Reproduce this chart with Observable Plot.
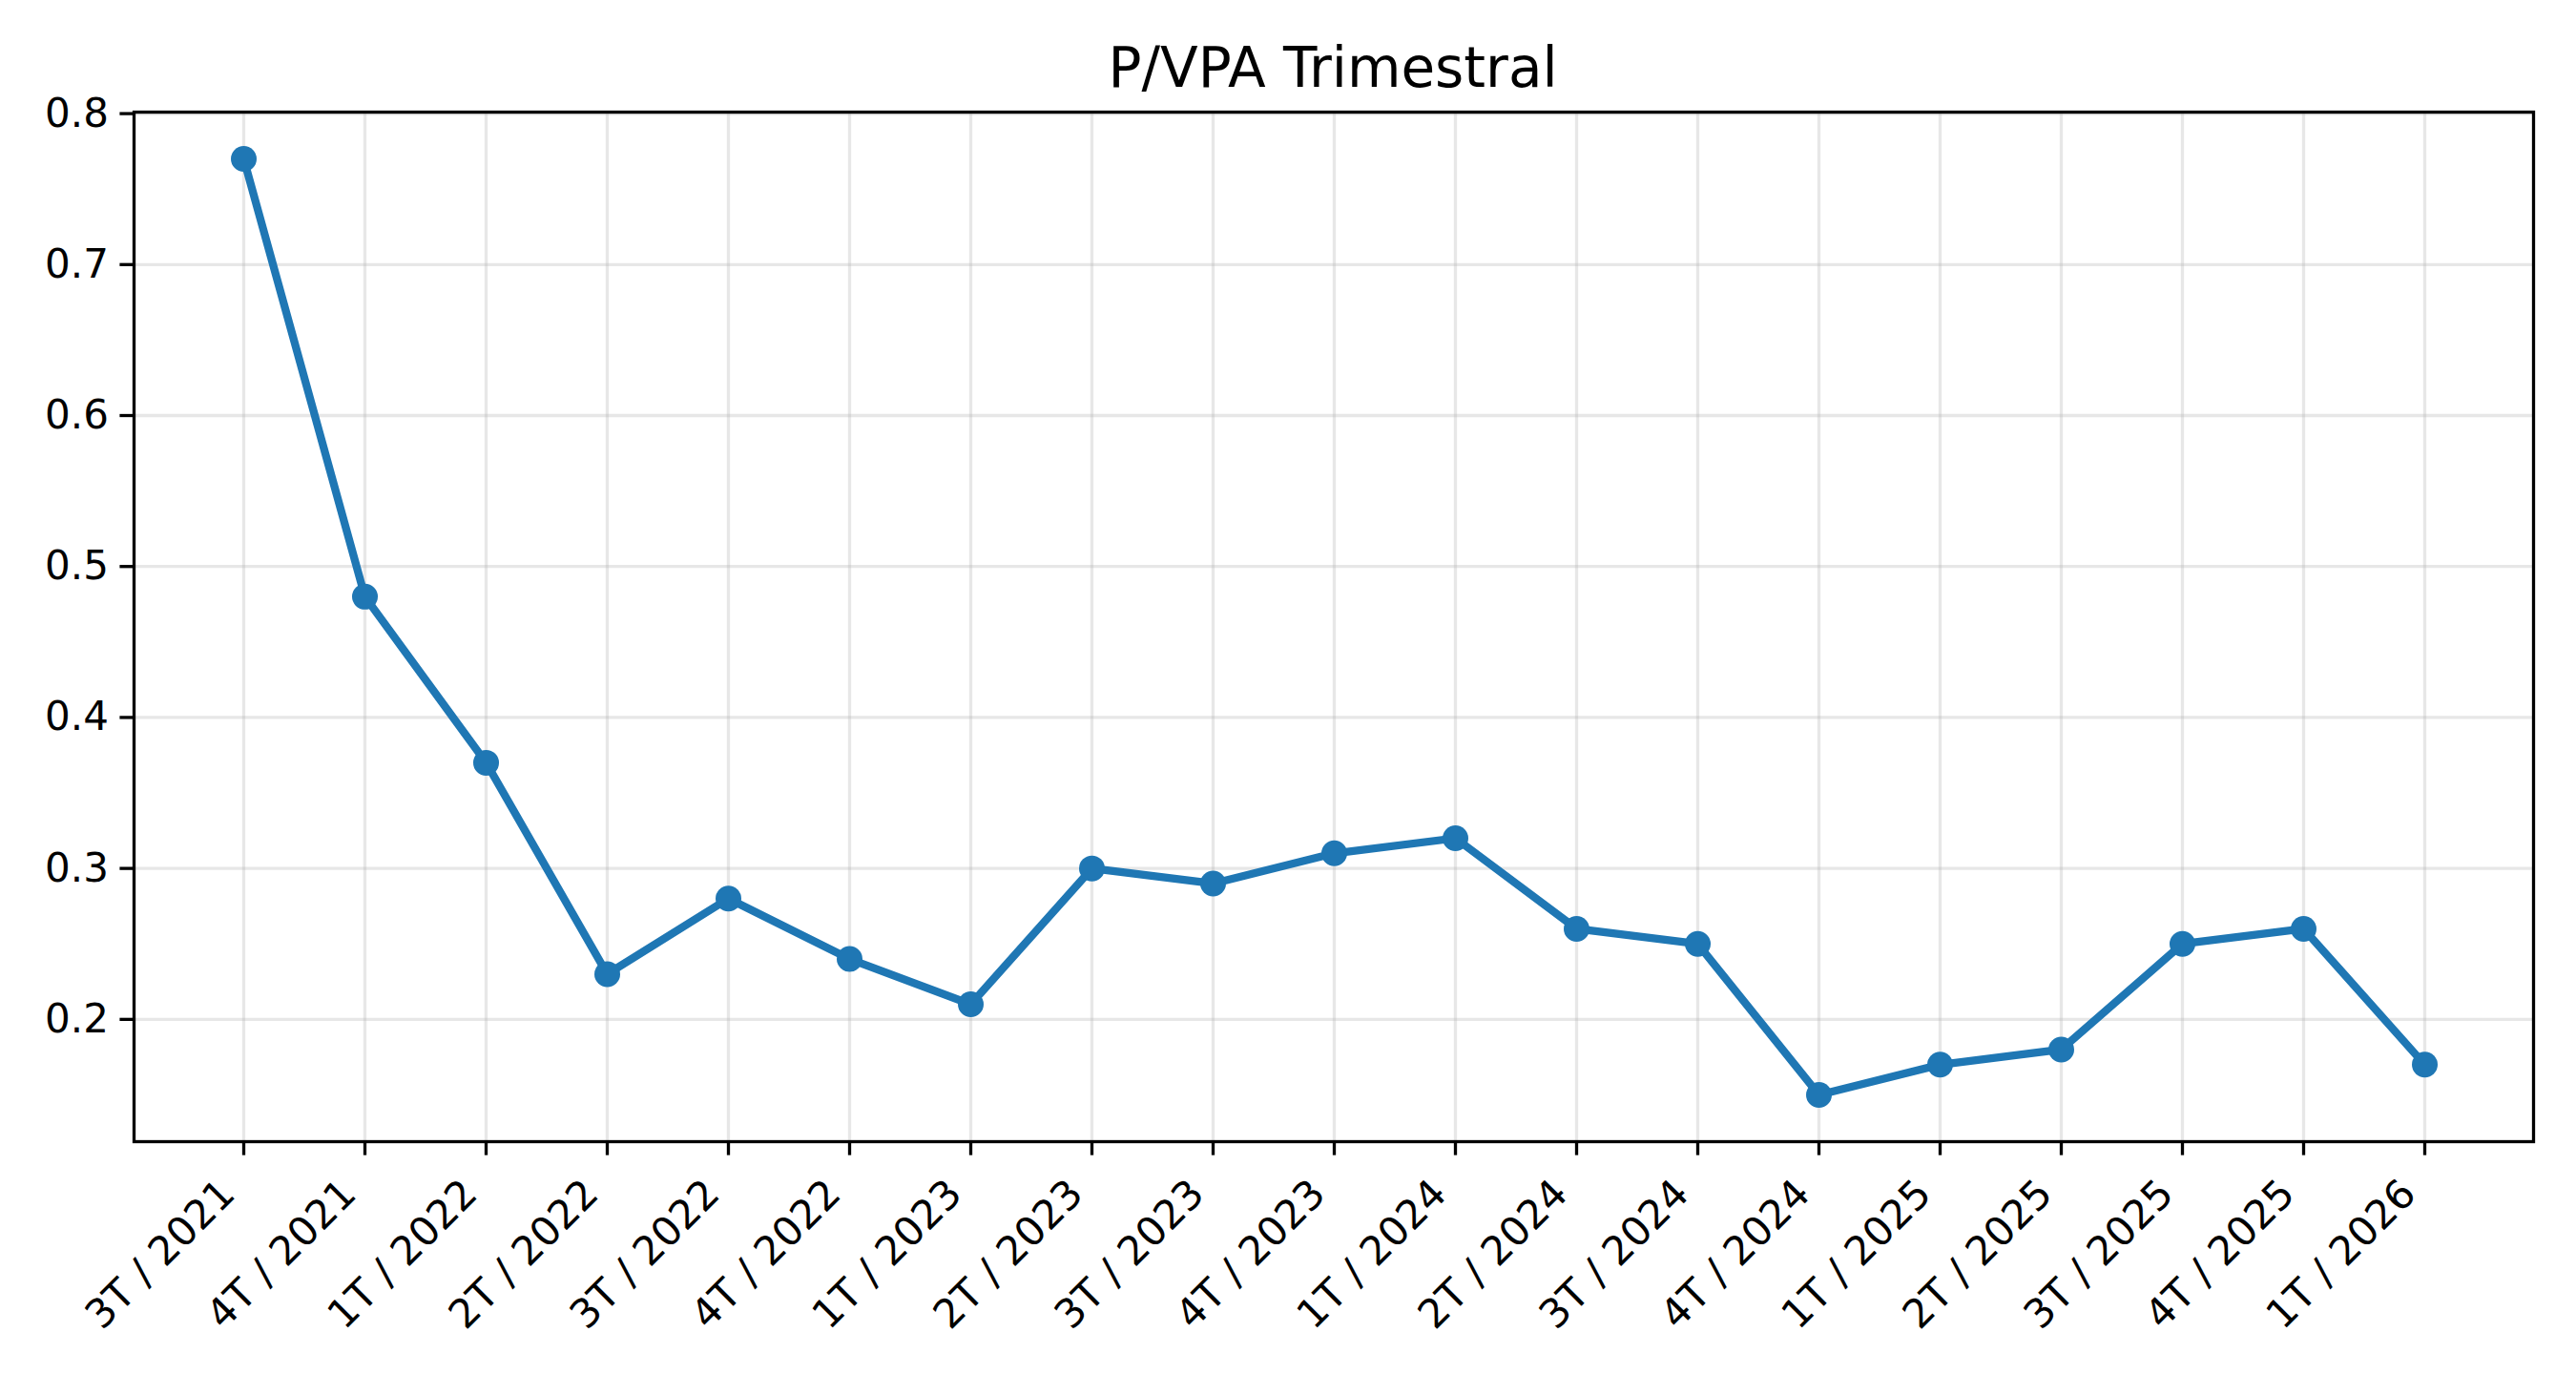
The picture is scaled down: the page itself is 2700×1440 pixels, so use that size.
<!DOCTYPE html>
<html>
<head>
<meta charset="utf-8">
<script src="https://cdn.jsdelivr.net/npm/d3@7"></script>
<script src="https://cdn.jsdelivr.net/npm/@observablehq/plot@0.6"></script>
<style>
  html, body { margin: 0; padding: 0; background: #ffffff; }
  #wrap { width: 2700px; }
  #titlebox { position: relative; width: 2700px; height: 70px; }
  #title { position: absolute; top: 42px; left: 94px; width: 2606px; text-align: center;
           font-family: "DejaVu Sans", sans-serif; font-size: 58px; line-height: 1; color: #000; }
  svg { display: block; overflow: visible; }
</style>
</head>
<body>
<div id="wrap">
  <div id="titlebox"><div id="title">P/VPA Trimestral</div></div>
  <div id="chart"></div>
</div>
<script>
const quarters = ["3T / 2021","4T / 2021","1T / 2022","2T / 2022","3T / 2022","4T / 2022",
  "1T / 2023","2T / 2023","3T / 2023","4T / 2023","1T / 2024","2T / 2024","3T / 2024",
  "4T / 2024","1T / 2025","2T / 2025","3T / 2025","4T / 2025","1T / 2026"];
const pvpa = [0.77,0.48,0.37,0.23,0.28,0.24,0.21,0.30,0.29,0.31,0.32,0.26,0.25,0.15,0.17,0.18,0.25,0.26,0.17];
const yTicks = [0.2,0.3,0.4,0.5,0.6,0.7,0.8];

const data = quarters.map((q, i) => ({q, v: pvpa[i]}));
const vmin = d3.min(pvpa), vmax = d3.max(pvpa), pad = (vmax - vmin) * 0.05;

const chart = Plot.plot({
  width: 2700,
  height: 1370,
  marginLeft: 140,
  marginRight: 45,
  marginTop: 47,
  marginBottom: 244,
  style: {fontFamily: "DejaVu Sans", fontSize: "42px", color: "#000", background: "#fff"},
  x: {type: "point", domain: quarters, padding: 0.9, label: null},
  y: {domain: [vmin - pad, vmax + pad], label: null},
  marks: [
    Plot.gridX(quarters, {stroke: "#b0b0b0", strokeOpacity: 0.3, strokeWidth: 3.3}),
    Plot.gridY(yTicks, {stroke: "#b0b0b0", strokeOpacity: 0.3, strokeWidth: 3.3}),
    Plot.line(data, {x: "q", y: "v", stroke: "#1f77b4", strokeWidth: 8.3}),
    Plot.dot(data, {x: "q", y: "v", r: 13.5, fill: "#1f77b4", stroke: "none"}),
    Plot.axisY(yTicks, {tickSize: 14.6, tickPadding: 12, strokeWidth: 3.3, tickFormat: d3.format(".1f"), label: null, fontSize: 42}),
    Plot.axisX(quarters, {tickSize: 14.6, strokeWidth: 3.3, tickFormat: () => "", label: null}),
    Plot.axisX(quarters, {tickSize: 0, tickPadding: 24.6, tickRotate: -45, dx: -16.5, dy: 23, label: null, fontSize: 42}),
    Plot.frame({stroke: "#000", strokeWidth: 3.3})
  ]
});
document.getElementById("chart").appendChild(chart);
</script>
</body>
</html>
